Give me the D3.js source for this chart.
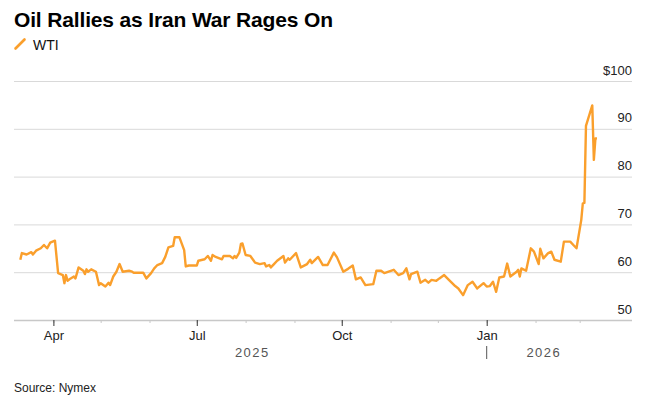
<!DOCTYPE html>
<meta charset="utf-8">
<style>
body { margin: 0; background: white; }
text { font-family: "Liberation Sans", Arial, sans-serif; }
</style>
<body>
<script src="https://cdn.jsdelivr.net/npm/d3@7"></script>
<script>
var title = 'Oil Rallies as Iran War Rages On'
var seriesName = 'WTI'
var source = 'Source: Nymex'

var dates = [
    '2025-03-11', '2025-03-12', '2025-03-15', '2025-03-18', '2025-03-19', '2025-03-21', '2025-03-24', '2025-03-26', '2025-03-28', '2025-03-30',
    '2025-04-02', '2025-04-04', '2025-04-07', '2025-04-08', '2025-04-09', '2025-04-10', '2025-04-12', '2025-04-14', '2025-04-15', '2025-04-17',
    '2025-04-20', '2025-04-21', '2025-04-22', '2025-04-23', '2025-04-25', '2025-04-28', '2025-04-30', '2025-05-01', '2025-05-04', '2025-05-06',
    '2025-05-07', '2025-05-09', '2025-05-11', '2025-05-13', '2025-05-15', '2025-05-19', '2025-05-21', '2025-05-22', '2025-05-28', '2025-05-30',
    '2025-06-02', '2025-06-04', '2025-06-06', '2025-06-09', '2025-06-11', '2025-06-13', '2025-06-16', '2025-06-17', '2025-06-20', '2025-06-23',
    '2025-06-24', '2025-06-26', '2025-07-01', '2025-07-02', '2025-07-06', '2025-07-08', '2025-07-10', '2025-07-11', '2025-07-13', '2025-07-17',
    '2025-07-18', '2025-07-22', '2025-07-24', '2025-07-25', '2025-07-26', '2025-07-28', '2025-07-29', '2025-07-30', '2025-08-01', '2025-08-04',
    '2025-08-07', '2025-08-10', '2025-08-13', '2025-08-14', '2025-08-16', '2025-08-17', '2025-08-19', '2025-08-21', '2025-08-25', '2025-08-26',
    '2025-08-28', '2025-08-29', '2025-09-02', '2025-09-05', '2025-09-09', '2025-09-11', '2025-09-12', '2025-09-16', '2025-09-19', '2025-09-22',
    '2025-09-26', '2025-09-28', '2025-10-02', '2025-10-05', '2025-10-08', '2025-10-10', '2025-10-13', '2025-10-16', '2025-10-21', '2025-10-23',
    '2025-10-26', '2025-10-28', '2025-11-03', '2025-11-06', '2025-11-09', '2025-11-11', '2025-11-13', '2025-11-14', '2025-11-18', '2025-11-20',
    '2025-11-23', '2025-11-25', '2025-11-27', '2025-11-30', '2025-12-02', '2025-12-05', '2025-12-08', '2025-12-12', '2025-12-14', '2025-12-17',
    '2025-12-20', '2025-12-23', '2025-12-26', '2025-12-30', '2026-01-01', '2026-01-03', '2026-01-05', '2026-01-07', '2026-01-09', '2026-01-12',
    '2026-01-14', '2026-01-16', '2026-01-20', '2026-01-21', '2026-01-22', '2026-01-23', '2026-01-26', '2026-01-29', '2026-01-31', '2026-02-03',
    '2026-02-04', '2026-02-06', '2026-02-09', '2026-02-11', '2026-02-13', '2026-02-17', '2026-02-19', '2026-02-23', '2026-02-25', '2026-02-27',
    '2026-03-02', '2026-03-03', '2026-03-04', '2026-03-05', '2026-03-09', '2026-03-10', '2026-03-11', '2026-03-12'
]

var wti = [
    62.6, 64.0, 63.7, 64.2, 63.7, 64.5, 65.0, 65.7, 65.0, 66.2,
    66.6, 59.8, 59.4, 57.7, 59.4, 58.2, 58.7, 59.1, 58.7, 61.0,
    60.3, 59.6, 60.6, 60.1, 60.6, 60.1, 57.3, 57.7, 57.0, 57.8,
    57.3, 59.1, 60.1, 61.7, 60.1, 60.3, 60.1, 59.9, 59.9, 58.7,
    59.8, 60.8, 61.5, 61.9, 63.2, 65.2, 65.5, 67.3, 67.3, 64.6,
    61.2, 61.4, 61.4, 62.4, 62.7, 63.4, 62.4, 63.6, 63.2, 62.7,
    63.4, 63.4, 62.9, 63.4, 63.0, 64.1, 65.9, 66.0, 63.6, 63.4,
    62.0, 61.7, 61.9, 61.2, 61.5, 61.0, 61.7, 62.4, 63.4, 62.0,
    62.9, 62.6, 64.0, 61.0, 61.7, 62.6, 61.9, 63.2, 61.5, 61.5,
    64.1, 63.1, 60.1, 60.7, 61.4, 58.5, 58.9, 57.3, 57.5, 60.3,
    60.3, 59.8, 60.5, 59.4, 59.8, 60.8, 58.5, 59.6, 60.1, 57.8,
    58.4, 57.8, 58.4, 58.2, 58.7, 59.4, 58.4, 57.1, 56.6, 55.2,
    57.3, 58.0, 56.6, 57.7, 57.0, 57.1, 58.0, 55.9, 58.9, 59.1,
    61.8, 59.1, 60.1, 60.5, 59.1, 60.8, 60.3, 65.0, 64.3, 61.7,
    64.9, 62.9, 64.0, 64.3, 62.6, 62.2, 66.4, 66.4, 65.7, 65.0,
    70.9, 74.4, 74.5, 90.6, 94.9, 83.5, 88.0, 88.0
]

var yTicks = [50, 60, 70, 80, 90, 100]
var monthTicks = ['2025-04-01', '2025-05-01', '2025-06-01', '2025-07-01', '2025-08-01', '2025-09-01', '2025-10-01',
    '2025-11-01', '2025-12-01', '2026-01-01', '2026-02-01', '2026-03-01']
var majorTicks = ['2025-04-01', '2025-07-01', '2025-10-01', '2026-01-01']
var years = [
    { label: '2025', start: '2025-03-07', end: '2026-01-01' },
    { label: '2026', start: '2026-01-01', end: '2026-03-12' }
]

var width = 656
var height = 399
var orange = '#fa9f2c'
var parse = d3.timeParse('%Y-%m-%d')

var data = dates.map(function (d, i) { return { date: parse(d), value: wti[i] } })

var left = 14
var right = 632
var x = d3.scaleTime()
    .domain([parse('2025-03-07'), parse('2026-03-12')])
    .range([left, 597])
var y = d3.scaleLinear().domain([50, 100]).range([320, 81])

var svg = d3.select('body').append('svg')
    .attr('width', width)
    .attr('height', height)

svg.append('text')
    .attr('x', 14)
    .attr('y', 27)
    .attr('font-size', 21)
    .attr('font-weight', 'bold')
    .attr('letter-spacing', -0.15)
    .attr('fill', '#000')
    .text(title)

svg.append('line')
    .attr('x1', 15.5).attr('y1', 48.5)
    .attr('x2', 24.5).attr('y2', 39.5)
    .attr('stroke', orange)
    .attr('stroke-width', 2.6)
    .attr('stroke-linecap', 'round')

svg.append('text')
    .attr('x', 33)
    .attr('y', 50)
    .attr('font-size', 14)
    .attr('fill', '#111')
    .text(seriesName)

// y gridlines + labels
var yAxis = svg.append('g')
    .attr('transform', 'translate(' + left + ',0)')
    .call(d3.axisRight(y).tickValues(yTicks).tickSize(right - left)
        .tickFormat(function (d) { return d === 100 ? '$100' : d }))

yAxis.select('.domain').remove()
yAxis.selectAll('.tick line')
    .attr('stroke', function (d) { return d === 50 ? '#c8c8c8' : '#d9d9d9' })
    .attr('stroke-width', function (d) { return d === 50 ? 1.5 : 1 })
yAxis.selectAll('.tick text')
    .attr('x', right - left)
    .attr('dy', -7)
    .attr('text-anchor', 'end')
    .attr('font-size', 13)
    .attr('font-family', '"Liberation Sans", Arial, sans-serif')
    .attr('fill', '#222')

// month ticks
var minorAxis = svg.append('g')
    .attr('transform', 'translate(0,320)')
    .call(d3.axisBottom(x).tickValues(monthTicks.map(parse)).tickSize(3).tickFormat(''))
minorAxis.select('.domain').remove()
minorAxis.selectAll('.tick line').attr('stroke', '#c8c8c8')

var majorAxis = svg.append('g')
    .attr('transform', 'translate(0,320)')
    .call(d3.axisBottom(x).tickValues(majorTicks.map(parse)).tickSize(6)
        .tickFormat(d3.timeFormat('%b')))
majorAxis.select('.domain').remove()
majorAxis.selectAll('.tick line').attr('stroke', '#333')
majorAxis.selectAll('.tick text')
    .attr('y', 20)
    .attr('dy', 0)
    .attr('font-size', 13)
    .attr('font-family', '"Liberation Sans", Arial, sans-serif')
    .attr('fill', '#222')

// year labels
svg.selectAll('.year')
    .data(years)
    .enter().append('text')
    .attr('class', 'year')
    .attr('x', function (d) { return (x(parse(d.start)) + x(parse(d.end))) / 2 + 2 })
    .attr('y', 357)
    .attr('text-anchor', 'middle')
    .attr('font-size', 13)
    .attr('letter-spacing', 1.5)
    .attr('fill', '#555')
    .text(function (d) { return d.label })

svg.append('line')
    .attr('x1', x(parse('2026-01-01'))).attr('x2', x(parse('2026-01-01')))
    .attr('y1', 346).attr('y2', 359)
    .attr('stroke', '#555')

svg.append('path')
    .datum(data)
    .attr('fill', 'none')
    .attr('stroke', orange)
    .attr('stroke-width', 2.4)
    .attr('stroke-linejoin', 'round')
    .attr('d', d3.line()
        .x(function (d) { return x(d.date) })
        .y(function (d) { return y(d.value) }))

svg.append('text')
    .attr('x', 14)
    .attr('y', 392)
    .attr('font-size', 12)
    .attr('fill', '#222')
    .text(source)
</script>
</body>
